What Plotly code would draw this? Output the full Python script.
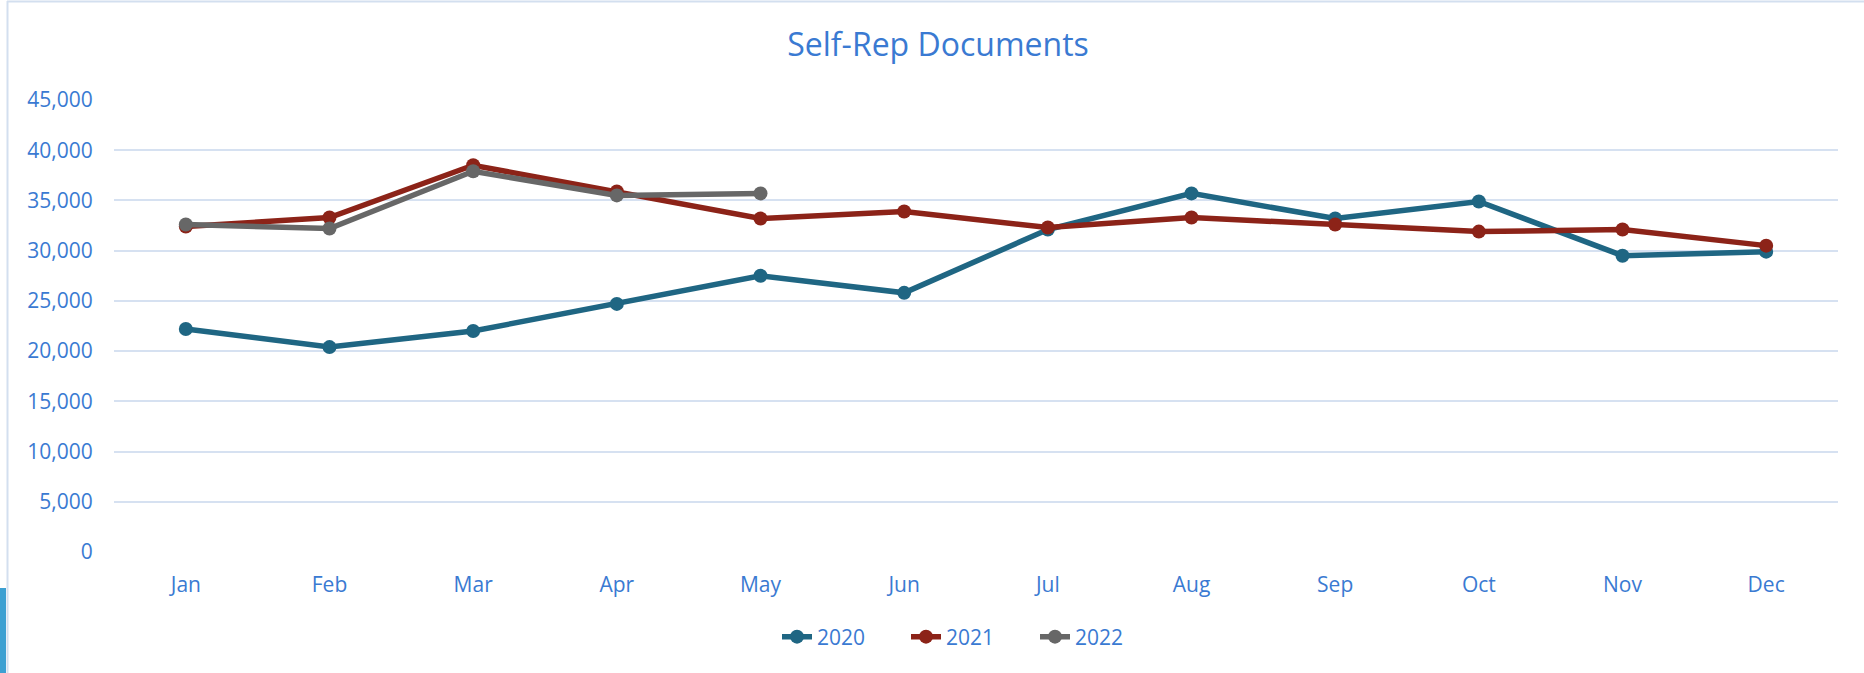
import plotly.graph_objects as go

months = ["Jan", "Feb", "Mar", "Apr", "May", "Jun", "Jul", "Aug", "Sep", "Oct", "Nov", "Dec"]
series_names = ["2020", "2021", "2022"]
values_2020 = [22200, 20400, 22000, 24700, 27500, 25800, 32100, 35700, 33200, 34900, 29500, 29900]
values_2021 = [32400, 33300, 38500, 35900, 33200, 33900, 32300, 33300, 32600, 31900, 32100, 30500]
values_2022 = [32600, 32200, 37900, 35500, 35700]
y_ticks = [0, 5000, 10000, 15000, 20000, 25000, 30000, 35000, 40000, 45000]

W, H = 1864, 673
L, R, T, B = 114, 1838, 100, 552
TEXT = "#3A7AD2"
GRID = "#D6E1F1"
FONT = "Open Sans"
colors = ["#1F6683", "#8C2318", "#676767"]


def px(x):
    return (x - L) / (R - L)


def py(y):
    return (B - y) / (B - T)


fig = go.Figure()
for name, vals, c in zip(series_names, [values_2020, values_2021, values_2022], colors):
    fig.add_trace(go.Scatter(
        x=months[:len(vals)], y=vals, name=name, mode="lines+markers",
        line=dict(color=c, width=5.5), marker=dict(color=c, size=14),
    ))

fig.update_layout(
    width=W, height=H,
    margin=dict(l=L, r=W - R, t=T, b=H - B),
    paper_bgcolor="white", plot_bgcolor="white",
    font=dict(family=FONT, size=21, color=TEXT),
    title=dict(text="Self-Rep Documents", font=dict(family=FONT, size=32, color=TEXT),
               x=px(938), xref="paper", xanchor="center",
               y=1 - 45 / H, yref="container", yanchor="middle"),
    showlegend=True,
    legend=dict(orientation="h", x=px(777), xanchor="left", y=py(637), yanchor="middle",
                font=dict(family=FONT, size=21, color=TEXT),
                entrywidth=84, entrywidthmode="pixels",
                bgcolor="rgba(0,0,0,0)"),
    xaxis=dict(type="category", categoryorder="array", categoryarray=months,
               range=[-0.5, 11.5], showgrid=False, zeroline=False, showline=False,
               ticks="outside", ticklen=14, tickcolor="rgba(0,0,0,0)",
               tickfont=dict(family=FONT, size=21, color=TEXT)),
    yaxis=dict(range=[0, 45000], tickvals=y_ticks, tickformat=",d",
               showgrid=True, gridcolor=GRID, gridwidth=2, zeroline=False, showline=False,
               ticks="outside", ticklen=16, tickcolor="rgba(0,0,0,0)",
               tickfont=dict(family=FONT, size=21, color=TEXT)),
    shapes=[
        dict(type="line", xref="paper", yref="paper", x0=px(7), x1=px(W), y0=py(1.5), y1=py(1.5),
             line=dict(color="#D3DFEF", width=2)),
        dict(type="line", xref="paper", yref="paper", x0=px(7.5), x1=px(7.5), y0=py(1), y1=py(H),
             line=dict(color="#D3DFEF", width=2)),
        dict(type="rect", xref="paper", yref="paper", x0=px(0), x1=px(6), y0=py(588), y1=py(H),
             line=dict(width=0), fillcolor="#3DA0D2"),
    ],
)

fig.write_html("out.html", config={"displayModeBar": False},
               post_script="document.body.style.margin='0';")
